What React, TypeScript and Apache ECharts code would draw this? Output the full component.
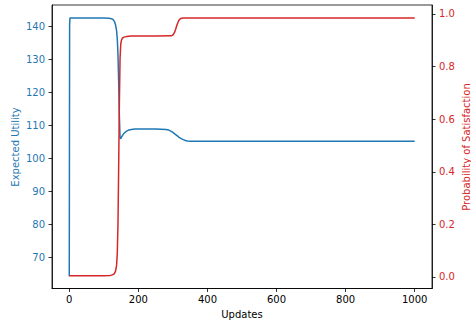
import React, { useEffect, useRef } from "react";
import * as echarts from "echarts";

// Updates (x) and Expected Utility (left axis)
const utilityX = [0, 1, 2, 20, 100, 115, 122, 127, 131, 134, 137, 139, 141, 143, 145, 147, 149, 152, 156, 160, 166, 172, 180, 190, 200, 250, 280, 288, 294, 300, 306, 312, 318, 324, 330, 336, 342, 350, 360, 400, 600, 800, 1000];
const utilityY = [64.4, 140.5, 142.5, 142.5, 142.5, 142.45, 142.3, 142.0, 141.4, 140.4, 138.6, 136.2, 131.5, 123, 113, 106.2, 106.0, 106.6, 107.3, 107.8, 108.3, 108.6, 108.8, 108.9, 108.9, 108.9, 108.8, 108.6, 108.3, 107.9, 107.4, 106.9, 106.4, 106.0, 105.7, 105.45, 105.3, 105.22, 105.2, 105.2, 105.2, 105.2, 105.2];

// Updates (x) and Probability of Satisfaction (right axis)
const probX = [0, 50, 100, 118, 125, 130, 134, 137, 139, 141, 143, 145, 147, 149, 151, 154, 158, 165, 180, 250, 295, 300, 304, 308, 311, 314, 317, 320, 323, 326, 330, 340, 500, 800, 1000];
const probY = [0.005, 0.005, 0.005, 0.006, 0.008, 0.012, 0.022, 0.045, 0.09, 0.2, 0.42, 0.66, 0.83, 0.885, 0.9, 0.908, 0.912, 0.914, 0.916, 0.916, 0.917, 0.92, 0.928, 0.942, 0.955, 0.966, 0.975, 0.98, 0.983, 0.984, 0.985, 0.985, 0.985, 0.985, 0.985];

const xTicks = [0, 200, 400, 600, 800, 1000];
const leftTicks = [70, 80, 90, 100, 110, 120, 130, 140];
const rightTicks = [0, 0.2, 0.4, 0.6, 0.8, 1.0];

const BLUE = "#1f77b4";
const RED = "#d62728";
const FONT = "DejaVu Sans";

export default function App() {
  const ref = useRef<HTMLDivElement>(null);
  useEffect(() => {
    if (!ref.current) return;
    const chart = echarts.init(ref.current, null, { renderer: "svg" });
    const tickStyle = { show: true, inside: false, length: 3.5, lineStyle: { color: "#000", width: 0.8 } };
    const lineStyle = { show: true, onZero: false, lineStyle: { color: "#000", width: 0.8 } };
    chart.setOption({
      animation: false,
      backgroundColor: "#fff",
      grid: {
        left: 52,
        right: 39,
        top: 5,
        bottom: 33.5,
        containLabel: false,
        outerBoundsMode: "none",
        show: true,
        borderColor: "#000",
        borderWidth: 0.8,
        backgroundColor: "transparent",
      },
      graphic: [
        {
          type: "text",
          x: 15,
          y: 147,
          rotation: Math.PI / 2,
          style: {
            text: "Expected Utility",
            fill: BLUE,
            font: `10px "${FONT}"`,
            textAlign: "center",
            textVerticalAlign: "middle",
          },
        },
        {
          type: "text",
          x: 466,
          y: 147,
          rotation: Math.PI / 2,
          style: {
            text: "Probability of Satisfaction",
            fill: RED,
            font: `10px "${FONT}"`,
            textAlign: "center",
            textVerticalAlign: "middle",
          },
        },
      ],
      xAxis: {
        type: "value",
        min: -50,
        max: 1050,
        name: "Updates",
        nameLocation: "middle",
        nameGap: 20,
        nameTextStyle: { fontFamily: FONT, fontSize: 10, color: "#000" },
        axisLine: lineStyle,
        axisTick: { ...tickStyle, customValues: xTicks },
        axisLabel: {
          customValues: xTicks,
          margin: 6,
          fontFamily: FONT,
          fontSize: 10,
          color: "#000",
          formatter: (v: number) => String(v),
        },
        splitLine: { show: false },
      },
      yAxis: [
        {
          type: "value",
          position: "left",
          min: 60.68,
          max: 146.44,
          axisLine: lineStyle,
          axisTick: { ...tickStyle, customValues: leftTicks },
          axisLabel: {
            customValues: leftTicks,
            margin: 7,
            fontFamily: FONT,
            fontSize: 10,
            color: BLUE,
            formatter: (v: number) => String(v),
          },
          splitLine: { show: false },
        },
        {
          type: "value",
          position: "right",
          min: -0.0438,
          max: 1.0342,
          axisLine: lineStyle,
          axisTick: { ...tickStyle, customValues: rightTicks },
          axisLabel: {
            customValues: rightTicks,
            margin: 7,
            fontFamily: FONT,
            fontSize: 10,
            color: RED,
            formatter: (v: number) => v.toFixed(1),
          },
          splitLine: { show: false },
        },
      ],
      series: [
        {
          type: "line",
          yAxisIndex: 0,
          data: utilityX.map((x, i) => [x, utilityY[i]]),
          showSymbol: false,
          lineStyle: { color: BLUE, width: 1.5 },
          itemStyle: { color: BLUE },
        },
        {
          type: "line",
          yAxisIndex: 1,
          data: probX.map((x, i) => [x, probY[i]]),
          showSymbol: false,
          lineStyle: { color: RED, width: 1.5 },
          itemStyle: { color: RED },
        },
      ],
    });
    return () => chart.dispose();
  }, []);
  return (
    <div
      ref={ref}
      style={{ position: "fixed", left: 0, top: 0, width: 471, height: 322 }}
    />
  );
}
